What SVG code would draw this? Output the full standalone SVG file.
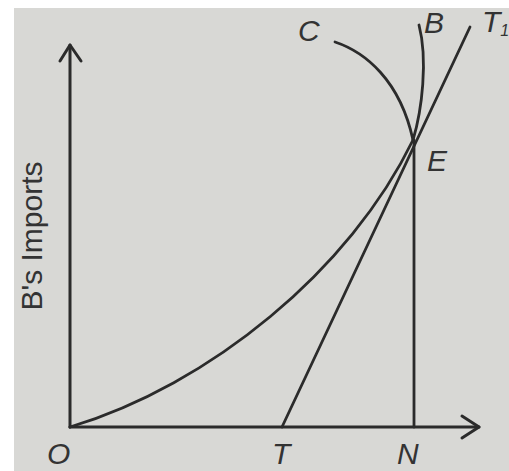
<svg xmlns="http://www.w3.org/2000/svg" width="509" height="471" viewBox="0 0 509 471">
<style>
.ln{fill:none;stroke:#2b2b2b;stroke-linecap:round;stroke-linejoin:round}
.ax{stroke-width:3}
.cv{stroke-width:2.8}
.lb{font-family:"Liberation Sans",Arial,sans-serif;font-style:italic;font-size:30px;fill:#333}
.yl{font-family:"Liberation Sans",Arial,sans-serif;font-size:30px;fill:#333}
</style>
<rect x="0" y="0" width="509" height="471" fill="#ffffff"/>
<rect x="14" y="8" width="495" height="463" fill="#d8d8d5"/>
<g id="connectors">
<path class="ln ax" d="M70,427 L70,45"/>
<path class="ln ax" d="M60,61 L70,45 L81,61"/>
<path class="ln ax" d="M70,427 L479,427"/>
<path class="ln ax" d="M462,416 L479,427 L462,438"/>
<path class="ln cv" d="M70,427 C210,385 350,270 413,140"/>
<path class="ln cv" d="M413,140 C422,110 428,60 419,25"/>
<path class="ln cv" d="M335,42 C365,52 400,80 413,140"/>
<path class="ln cv" d="M282,427 L470,27"/>
<path class="ln cv" d="M414,427 L414,140"/>
</g>
<g id="node-O"><text class="lb" x="47" y="464" font-size="27">O</text></g>
<g id="node-T"><text class="lb" x="272" y="464" font-size="27">T</text></g>
<g id="node-N"><text class="lb" x="397" y="464" font-size="27">N</text></g>
<g id="node-E"><text class="lb" x="427" y="171">E</text></g>
<g id="node-C"><text class="lb" x="298" y="41">C</text></g>
<g id="node-B"><text class="lb" x="424" y="33">B</text></g>
<g id="node-T1"><text class="lb" x="482" y="32">T<tspan font-size="16" dy="4">1</tspan></text></g>
<g id="node-ylabel"><text class="yl" transform="translate(42,236) rotate(-90)" text-anchor="middle">B's Imports</text></g>
</svg>
